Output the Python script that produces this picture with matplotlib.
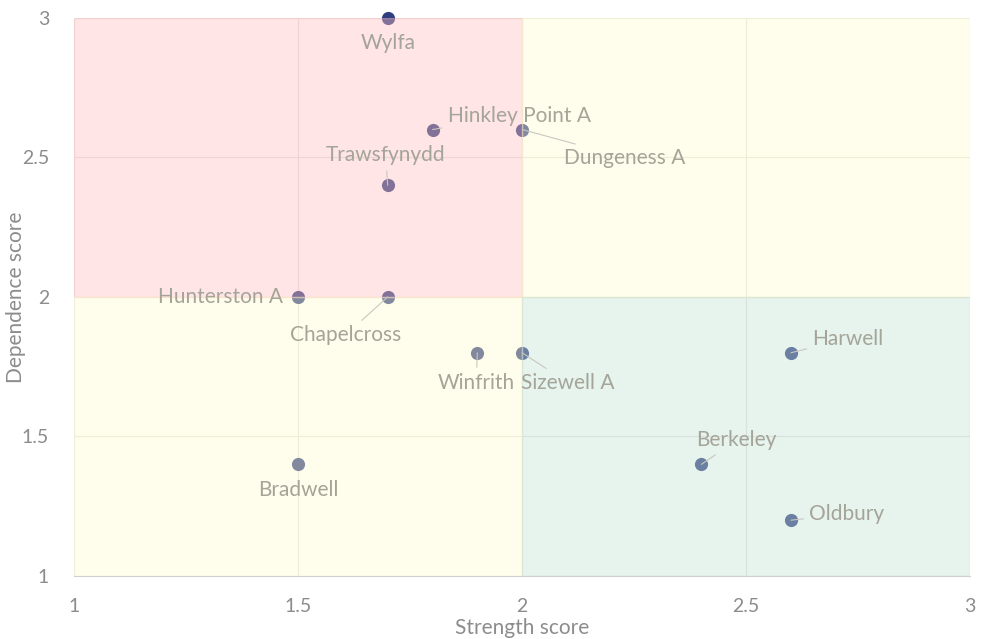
import matplotlib
matplotlib.use('Agg')
import matplotlib.pyplot as plt
from matplotlib.patches import Rectangle

# ── DATA ──────────────────────────────────────────────────────────────────────
stations   = ["Wylfa", "Hinkley Point A", "Dungeness A", "Trawsfynydd",
              "Hunterston A", "Chapelcross", "Winfrith", "Sizewell A",
              "Harwell", "Berkeley", "Oldbury", "Bradwell"]
strength   = [1.7, 1.8, 2.0, 1.7, 1.5, 1.7, 1.9, 2.0, 2.6, 2.4, 2.6, 1.5]
dependence = [3.0, 2.6, 2.6, 2.4, 2.0, 2.0, 1.8, 1.8, 1.8, 1.4, 1.2, 1.4]

# label offsets in pixels (dx, dy), alignment, and whether a leader line is drawn
label_offsets = [(0, -25), (15, 14), (42, -28), (-2, 30), (-15, 0), (-42, -38),
                 (-1, -30), (-1, -30), (21, 14), (35, 24), (18, 6), (0, -26)]
label_ha      = ["center", "left", "left", "center", "right", "center",
                 "center", "left", "left", "center", "left", "center"]
leader        = [False, True, True, True, False, True, True, True, True, True, True, False]

x_ticks = [1, 1.5, 2, 2.5, 3]
y_ticks = [1, 1.5, 2, 2.5, 3]

# quadrants: (x0, y0, colour)
quadrants = [(1, 2, "#ffbebe"), (2, 2, "#fffccd"),
             (1, 1, "#fffccd"), (2, 1, "#c5e1d4")]

POINT_COLOR = "#2f3e80"
TEXT_GREY   = "#8c8c8c"
LABEL_GREY  = "#a4a498"

plt.rcParams['font.family'] = ['Lato', 'DejaVu Sans']

fig = plt.figure(figsize=(9.87, 6.39), dpi=100)
ax = fig.add_axes([0.075, 0.0986, 0.908, 0.8734])

ax.scatter(strength, dependence, s=90, color=POINT_COLOR, zorder=2,
           clip_on=False, linewidths=0)

for x0, y0, c in quadrants:
    ax.add_patch(Rectangle((x0, y0), 1, 1, facecolor=c, alpha=0.4,
                           edgecolor=c, linewidth=1, zorder=3))

for name, x, y, (dx, dy), ha, ld in zip(stations, strength, dependence,
                                       label_offsets, label_ha, leader):
    arrow = dict(arrowstyle='-', color='#c8c8c0', lw=0.8,
                 shrinkA=2, shrinkB=0) if ld else None
    ax.annotate(name, (x, y), xytext=(dx, dy), textcoords='offset pixels',
                ha=ha, va='center', fontsize=15, color=LABEL_GREY,
                arrowprops=arrow, zorder=4)

ax.set_xlim(1, 3)
ax.set_ylim(1, 3)
ax.set_xticks(x_ticks)
ax.set_yticks(y_ticks)
ax.set_xticklabels([f"{t:g}" for t in x_ticks])
ax.set_yticklabels([f"{t:g}" for t in y_ticks])
ax.tick_params(length=0, colors=TEXT_GREY, labelsize=14)
ax.tick_params(axis='x', pad=16)
ax.tick_params(axis='y', pad=18)
ax.grid(True, color='#e4e4e4', linewidth=0.8, zorder=1)
ax.set_axisbelow(True)

for side in ['top', 'right', 'left']:
    ax.spines[side].set_visible(False)
ax.spines['bottom'].set_color('#d0d0d0')

ax.set_xlabel("Strength score", color=TEXT_GREY, fontsize=15, va='center')
ax.set_ylabel("Dependence score", color=TEXT_GREY, fontsize=15, va='center')
ax.xaxis.set_label_coords(0.5, -0.093)
ax.yaxis.set_label_coords(-0.065, 0.5)

fig.savefig("out.png", dpi=100)
